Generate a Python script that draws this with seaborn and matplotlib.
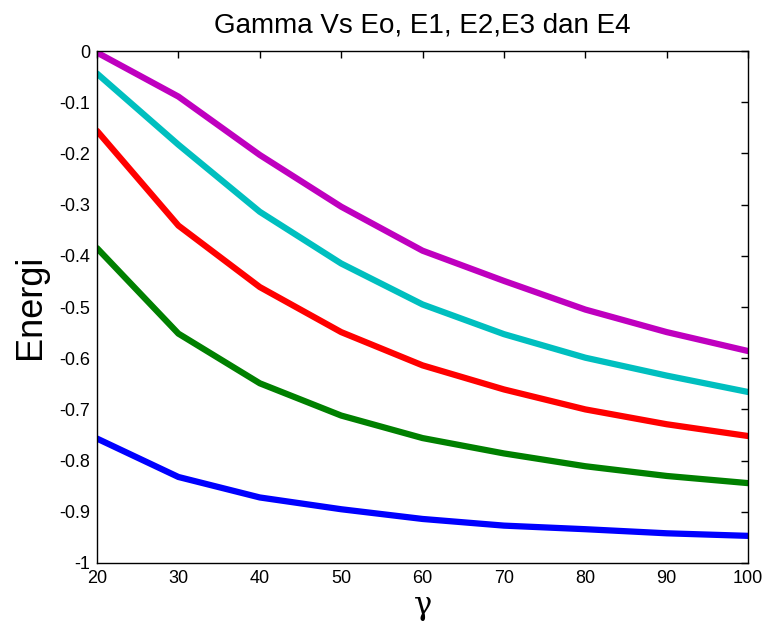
import numpy as np
import pandas as pd
import matplotlib
matplotlib.use("Agg")
import matplotlib.pyplot as plt
import seaborn as sns

gamma = [20, 30, 40, 50, 60, 70, 80, 90, 100]
E0 = [-0.757, -0.832, -0.872, -0.895, -0.914, -0.927, -0.934, -0.942, -0.947]
E1 = [-0.385, -0.552, -0.649, -0.712, -0.756, -0.786, -0.811, -0.830, -0.844]
E2 = [-0.156, -0.341, -0.461, -0.549, -0.614, -0.661, -0.700, -0.729, -0.752]
E3 = [-0.044, -0.183, -0.314, -0.415, -0.495, -0.553, -0.599, -0.634, -0.666]
E4 = [-0.003, -0.089, -0.203, -0.304, -0.390, -0.449, -0.505, -0.549, -0.586]
series_names = ["E0", "E1", "E2", "E3", "E4"]
colors = ["#0000ff", "#008000", "#ff0000", "#00bfbf", "#bf00bf"]
ytick_labels = ["-1", "-0.9", "-0.8", "-0.7", "-0.6", "-0.5", "-0.4", "-0.3", "-0.2", "-0.1", "0"]

frames = []
for name, vals in zip(series_names, [E0, E1, E2, E3, E4]):
    frames.append(pd.DataFrame({"gamma": gamma, "E": vals, "series": name}))
df = pd.concat(frames, ignore_index=True)

sns.set_style("white")
plt.rcParams['font.family'] = ['Liberation Sans', 'DejaVu Sans']
plt.rcParams['text.color'] = 'black'
plt.rcParams['axes.labelcolor'] = 'black'

fig = plt.figure(figsize=(7.67, 6.33), dpi=100)
ax = fig.add_axes([0.1265, 0.1106, 0.8488, 0.8088])
sns.lineplot(data=df, x="gamma", y="E", hue="series", palette=colors,
             hue_order=series_names, linewidth=4.5, legend=False, ax=ax)

ax.set_xlim(20, 100)
ax.set_ylim(-1, 0)
ax.set_xticks(gamma)
ax.set_yticks(np.round(np.arange(-1, 0.01, 0.1), 1))
ax.set_yticklabels(ytick_labels)
ax.tick_params(direction="in", length=5, width=1, labelsize=13, top=True, right=True,
               colors="black", pad=5)
for s in ax.spines.values():
    s.set_color("black")
    s.set_linewidth(1)
ax.set_title("Gamma Vs Eo, E1, E2,E3 dan E4", fontsize=20, pad=13, color="black")
ax.set_xlabel("γ", fontsize=22, family=['DejaVu Serif'], labelpad=2)
ax.set_ylabel("Energi", fontsize=26, labelpad=8)
fig.savefig("out.png", dpi=100)
